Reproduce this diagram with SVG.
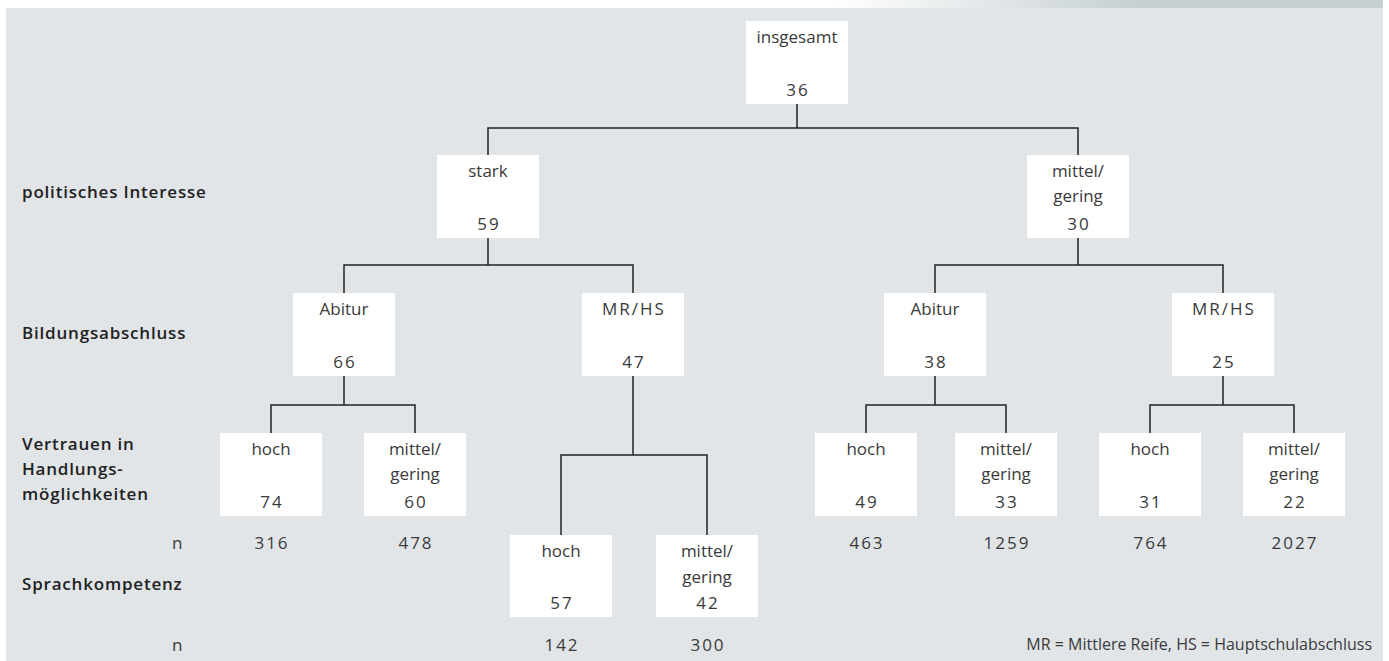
<svg xmlns="http://www.w3.org/2000/svg" width="1389" height="661" viewBox="0 0 1389 661">
<defs>
<linearGradient id="tab" x1="0" y1="0" x2="1389" y2="0" gradientUnits="userSpaceOnUse">
<stop offset="0.6" stop-color="#ffffff"/>
<stop offset="0.82" stop-color="#c6cfd2"/>
<stop offset="1" stop-color="#c6cfd2"/>
</linearGradient>
<style>
.box{fill:#ffffff}
.t{font-family:"Open Sans","Liberation Sans",sans-serif;font-size:17px;fill:#3a3a3a;text-anchor:middle;font-weight:400}
.num{letter-spacing:2px}
.lab{font-family:"Open Sans","Liberation Sans",sans-serif;font-size:17px;font-weight:600;fill:#222;letter-spacing:0.8px}
.n{font-family:"Open Sans","Liberation Sans",sans-serif;font-size:17px;fill:#3a3a3a}
.c{fill:none;stroke:#222;stroke-width:1.5}
</style>
</defs>
<rect x="0" y="0" width="1389" height="661" fill="#ffffff"/>
<rect x="6" y="0" width="1377" height="8" fill="url(#tab)"/>
<rect x="6" y="8" width="1377" height="653" fill="#e1e5e8"/>

<g id="labels">
<text class="lab" x="22" y="198">politisches Interesse</text>
<text class="lab" x="22" y="339">Bildungsabschluss</text>
<text class="lab" x="22" y="450">Vertrauen in</text>
<text class="lab" x="22" y="475">Handlungs-</text>
<text class="lab" x="22" y="500">möglichkeiten</text>
<text class="lab" x="22" y="590">Sprachkompetenz</text>
<text class="n" x="172" y="549">n</text>
<text class="n" x="172" y="651">n</text>
</g>

<g id="connectors">
<path class="c" d="M797 104V128M488 155V128H1078V155"/>
<path class="c" d="M488 238V265M344 293V265H633V293"/>
<path class="c" d="M1078 238V265M935 293V265H1223V293"/>
<path class="c" d="M344 376V405M271 433V405H415V433"/>
<path class="c" d="M633 376V455M561 535V455H707V535"/>
<path class="c" d="M935 376V405M866 433V405H1006V433"/>
<path class="c" d="M1223 376V405M1150 433V405H1294V433"/>
</g>

<g id="n-insgesamt"><rect class="box" x="746" y="21" width="102" height="83"/><text class="t" x="797" y="43">insgesamt</text><text class="t num" x="798" y="96">36</text></g>

<g id="n-stark"><rect class="box" x="437" y="155" width="102" height="83"/><text class="t" x="488" y="177">stark</text><text class="t num" x="489" y="230">59</text></g>
<g id="n-mittel1"><rect class="box" x="1027" y="155" width="102" height="83"/><text class="t" x="1078" y="177">mittel/</text><text class="t" x="1078" y="202">gering</text><text class="t num" x="1079" y="230">30</text></g>

<g id="n-abitur1"><rect class="box" x="293" y="293" width="102" height="83"/><text class="t" x="344" y="315">Abitur</text><text class="t num" x="345" y="368">66</text></g>
<g id="n-mrhs1"><rect class="box" x="582" y="293" width="102" height="83"/><text class="t num" x="634" y="315">MR/HS</text><text class="t num" x="634" y="368">47</text></g>
<g id="n-abitur2"><rect class="box" x="884" y="293" width="102" height="83"/><text class="t" x="935" y="315">Abitur</text><text class="t num" x="936" y="368">38</text></g>
<g id="n-mrhs2"><rect class="box" x="1172" y="293" width="102" height="83"/><text class="t num" x="1224" y="315">MR/HS</text><text class="t num" x="1224" y="368">25</text></g>

<g id="n-hoch74"><rect class="box" x="220" y="433" width="102" height="83"/><text class="t" x="271" y="455">hoch</text><text class="t num" x="272" y="508">74</text></g>
<g id="n-mittel60"><rect class="box" x="364" y="433" width="102" height="83"/><text class="t" x="415" y="455">mittel/</text><text class="t" x="415" y="480">gering</text><text class="t num" x="416" y="508">60</text></g>
<g id="n-hoch49"><rect class="box" x="815" y="433" width="102" height="83"/><text class="t" x="866" y="455">hoch</text><text class="t num" x="867" y="508">49</text></g>
<g id="n-mittel33"><rect class="box" x="955" y="433" width="102" height="83"/><text class="t" x="1006" y="455">mittel/</text><text class="t" x="1006" y="480">gering</text><text class="t num" x="1007" y="508">33</text></g>
<g id="n-hoch31"><rect class="box" x="1099" y="433" width="102" height="83"/><text class="t" x="1150" y="455">hoch</text><text class="t num" x="1151" y="508">31</text></g>
<g id="n-mittel22"><rect class="box" x="1243" y="433" width="102" height="83"/><text class="t" x="1294" y="455">mittel/</text><text class="t" x="1294" y="480">gering</text><text class="t num" x="1295" y="508">22</text></g>

<g id="n-hoch57"><rect class="box" x="510" y="535" width="102" height="82"/><text class="t" x="561" y="557">hoch</text><text class="t num" x="562" y="609">57</text></g>
<g id="n-mittel42"><rect class="box" x="656" y="535" width="102" height="82"/><text class="t" x="707" y="557">mittel/</text><text class="t" x="707" y="583">gering</text><text class="t num" x="708" y="609">42</text></g>

<g id="counts">
<text class="t num" x="272" y="549">316</text>
<text class="t num" x="416" y="549">478</text>
<text class="t num" x="867" y="549">463</text>
<text class="t num" x="1007" y="549">1259</text>
<text class="t num" x="1151" y="549">764</text>
<text class="t num" x="1295" y="549">2027</text>
<text class="t num" x="562" y="651">142</text>
<text class="t num" x="708" y="651">300</text>
</g>

<text x="1372" y="650" font-family="Open Sans, Liberation Sans, sans-serif" font-size="16" fill="#3a3a3a" text-anchor="end">MR = Mittlere Reife, HS = Hauptschulabschluss</text>
</svg>
